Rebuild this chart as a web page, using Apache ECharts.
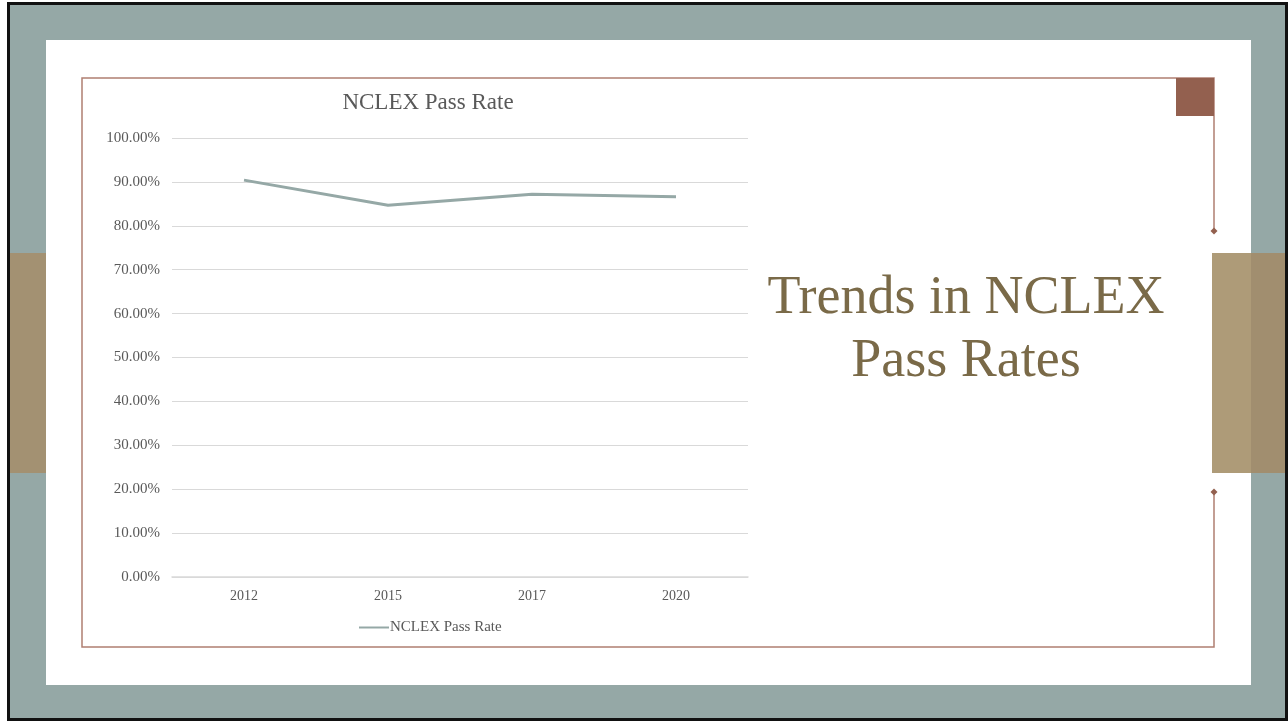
<!DOCTYPE html>
<html>
<head>
<meta charset="utf-8">
<script src="https://cdn.jsdelivr.net/npm/echarts@6/dist/echarts.min.js"></script>
<style>
  html, body { margin: 0; padding: 0; background: #ffffff; }
  #chart { width: 1288px; height: 721px; }
</style>
</head>
<body>
<div id="chart"></div>
<script>
const categories = ['2012', '2015', '2017', '2020'];
const passRates = [0.904, 0.847, 0.872, 0.866];
const seriesName = 'NCLEX Pass Rate';
const chartTitle = 'NCLEX Pass Rate';
const slideTitle = ['Trends in NCLEX', 'Pass Rates'];

const SERIF = '"Liberation Serif", "DejaVu Serif", serif';
const chart = echarts.init(document.getElementById('chart'));

const frameColor = '#B07F72';
const deco = [
  { type: 'rect', z: -20, shape: { x: 7, y: 2, width: 1281, height: 719 }, style: { fill: '#111111' } },
  { type: 'rect', z: -19, shape: { x: 10, y: 5, width: 1275, height: 713 }, style: { fill: '#95A8A6' } },
  { type: 'rect', z: -18, shape: { x: 46, y: 40, width: 1205, height: 645 }, style: { fill: '#ffffff' } },
  { type: 'rect', z: -17, shape: { x: 10, y: 253, width: 36, height: 220 }, style: { fill: '#A39172' } },
  { type: 'rect', z: -17, shape: { x: 1212, y: 253, width: 39, height: 220 }, style: { fill: '#AE9B78' } },
  { type: 'rect', z: -17, shape: { x: 1251, y: 253, width: 34, height: 220 }, style: { fill: '#A18E6F' } },
  // frame
  { type: 'polyline', z: -16, shape: { points: [[1214, 231], [1214, 78], [82, 78], [82, 647], [1214, 647], [1214, 492]] }, style: { stroke: frameColor, lineWidth: 1.5, fill: null } },
  { type: 'rect', z: -15, shape: { x: 1176, y: 78, width: 38, height: 38 }, style: { fill: '#93604F' } },
  { type: 'polygon', z: -15, shape: { points: [[1214, 227.5], [1217.5, 231], [1214, 234.5], [1210.5, 231]] }, style: { fill: '#93604F' } },
  { type: 'polygon', z: -15, shape: { points: [[1214, 488.5], [1217.5, 492], [1214, 495.5], [1210.5, 492]] }, style: { fill: '#93604F' } },
  // chart title
  { type: 'text', z: 10, x: 428, y: 103, style: { text: chartTitle, font: '23px ' + SERIF, fill: '#595959', align: 'center', verticalAlign: 'middle' } },
  // slide title
  { type: 'text', z: 10, x: 966, y: 299, style: { text: slideTitle[0], font: '54px ' + SERIF, fill: '#7A6A48', align: 'center', verticalAlign: 'middle' } },
  { type: 'text', z: 10, x: 966, y: 362, style: { text: slideTitle[1], font: '54px ' + SERIF, fill: '#7A6A48', align: 'center', verticalAlign: 'middle' } }
];

chart.setOption({
  animation: false,
  graphic: { elements: deco },
  grid: { left: 172, right: 540, top: 138, bottom: 144, containLabel: false },
  legend: {
    data: [seriesName],
    left: 354, top: 615,
    itemWidth: 30, itemHeight: 14, itemGap: 0,
    icon: 'path://M0,6 L30,6 L30,8 L0,8 Z',
    textStyle: { fontFamily: SERIF, fontSize: 15, color: '#595959', padding: [0, 0, 0, -4] }
  },
  xAxis: {
    type: 'category',
    data: categories,
    boundaryGap: true,
    axisLine: { lineStyle: { color: '#D9D9D9', width: 1.5 } },
    axisTick: { show: false },
    axisLabel: { fontFamily: SERIF, fontSize: 14, color: '#595959', margin: 12 }
  },
  yAxis: {
    type: 'value',
    min: 0, max: 1, interval: 0.1,
    axisLine: { show: false },
    axisTick: { show: false },
    splitLine: { lineStyle: { color: '#D9D9D9', width: 1 } },
    axisLabel: {
      fontFamily: SERIF, fontSize: 15, color: '#595959', margin: 12,
      formatter: v => (v * 100).toFixed(2) + '%'
    }
  },
  series: [{
    name: seriesName,
    type: 'line',
    data: passRates,
    showSymbol: false,
    symbol: 'none',
    lineStyle: { color: '#95A8A6', width: 3 },
    itemStyle: { color: '#95A8A6' }
  }]
});
</script>
</body>
</html>
